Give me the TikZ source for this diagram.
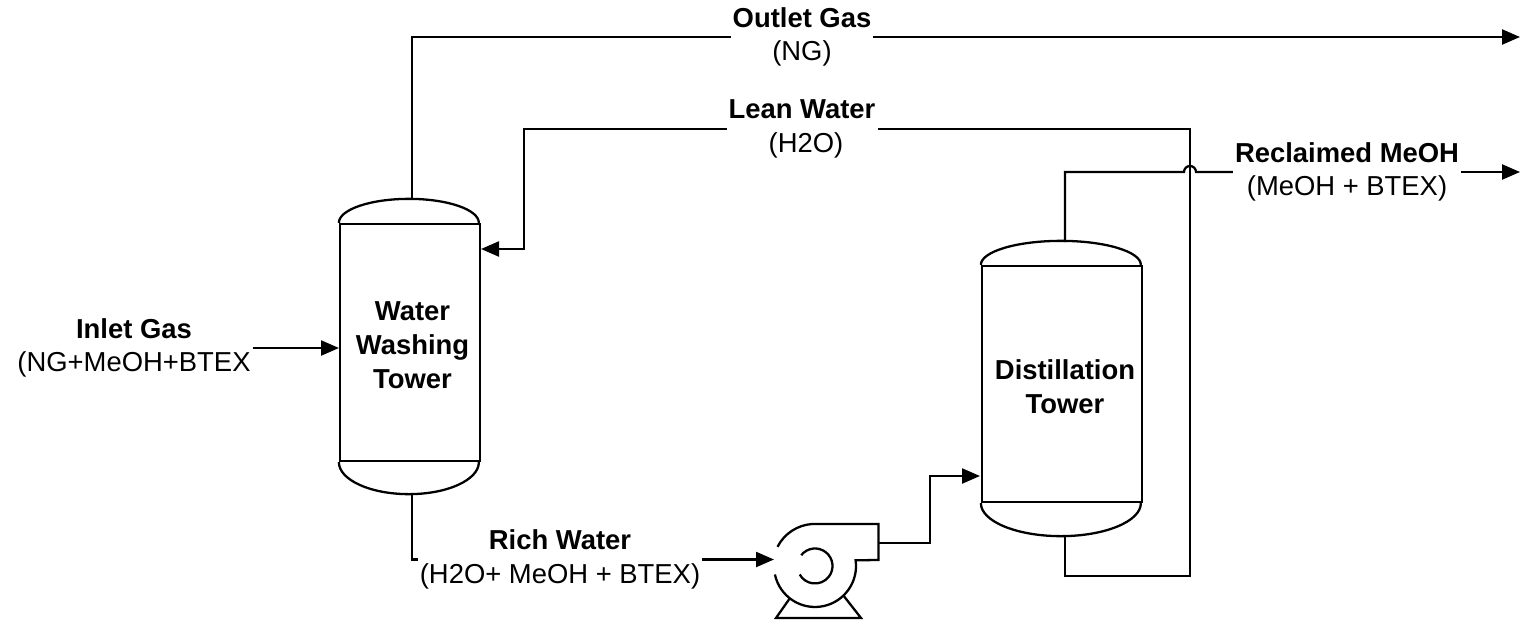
\documentclass[tikz,border=0pt]{standalone}
\usepackage{fontspec}
\setmainfont{Liberation Sans}
\usetikzlibrary{arrows.meta}
\tikzset{
    vessel/.style={draw,minimum width=#1,inner sep=0pt},
    stream/.style={inner sep=.01cm,align=center,font=\fontsize{7.8}{9.6}\selectfont},
}
\begin{document}
\begin{tikzpicture}[>={Triangle[length=.18cm,width=.15cm]},x=1cm,y=1cm,line width=.65pt]
    \useasboundingbox (0,0) rectangle (15.34,6.2);
    % towers
    \node[vessel=1.4cm,minimum height=2.37cm] (wash) at (4.10,2.775) {};
    \node[vessel=1.6cm,minimum height=2.36cm] (dist) at (10.62,2.36) {};
    \node[stream,font=\fontsize{7.8}{9.6}\selectfont\bfseries] (washname) at (4.125,2.75) {Water\\Washing\\Tower};
    \node[stream,font=\fontsize{7.8}{9.6}\selectfont\bfseries] (distname) at (10.65,2.335) {Distillation\\Tower};
    \draw (wash.north west) arc[start angle=180,end angle=0,x radius=.7,y radius=.24];
    \draw (wash.south west) arc[start angle=180,end angle=360,x radius=.7,y radius=.32];
    \draw (dist.north west) arc[start angle=180,end angle=0,x radius=.8,y radius=.24];
    \draw (dist.south west) arc[start angle=180,end angle=360,x radius=.8,y radius=.33];
    \coordinate (washtop) at (4.12,4.20);
    \coordinate (washbot) at (4.12,1.27);
    \coordinate (washfeed) at (3.39,2.72);
    \coordinate (washback) at (4.81,3.71);
    \coordinate (disttop) at (10.65,3.78);
    \coordinate (distbot) at (10.65,.85);
    \coordinate (distfeed) at (9.80,1.44);
    % pump
    \draw (7.749,.455) arc[start angle=192,end angle=368,radius=.41] -- (8.785,.60) -- (8.785,.96) -- (8.12,.96) arc[start angle=94,end angle=153,radius=.42];
    \draw (8.012,.648) arc[start angle=142,end angle=-151,radius=.175];
    \draw (7.90,.22) -- (7.76,.02) -- (8.61,.02) -- (8.43,.25);
    \coordinate (pumpin) at (7.74,.605);
    \coordinate (pumpout) at (8.785,.77);
    % labels
    \node[stream] (outlet) at (8.02,5.83) {\textbf{Outlet Gas}\\(NG)};
    \node[stream] (lean) at (8.02,4.91) {\textbf{Lean Water}\\\hspace*{.08cm}(H2O)};
    \node[stream] (reclaimed) at (13.47,4.48) {\textbf{Reclaimed MeOH}\\(MeOH + BTEX)};
    \node[stream] (inlet) at (1.34,2.72) {\textbf{Inlet Gas}\\(NG+MeOH+BTEX};
    \node[stream] (rich) at (5.60,.605) {\textbf{Rich Water}\\(H2O+ MeOH + BTEX)};
    \coordinate (outletend) at (15.20,5.83);
    \coordinate (reclaimedend) at (15.20,4.48);
    % streams
    \draw (washtop) |- (outlet.west);
    \draw[->] (outlet.east) -- (outletend);
    \draw (distbot) -- (10.65,.44) -| (11.90,4.91) -- (lean.east);
    \draw[->] (lean.west) -| (5.24,3.71) -- (washback);
    \draw (disttop) |- (11.84,4.48) arc[start angle=180,end angle=0,radius=.06] -- (reclaimed.west);
    \draw[->] (reclaimed.east) -- (reclaimedend);
    \draw[->] (inlet.east) -- (washfeed);
    \draw (washbot) |- (rich.west);
    \draw[->] (rich.east) -- (pumpin);
    \draw[->] (pumpout) -| (9.30,1.44) -- (distfeed);
\end{tikzpicture}
\end{document}
